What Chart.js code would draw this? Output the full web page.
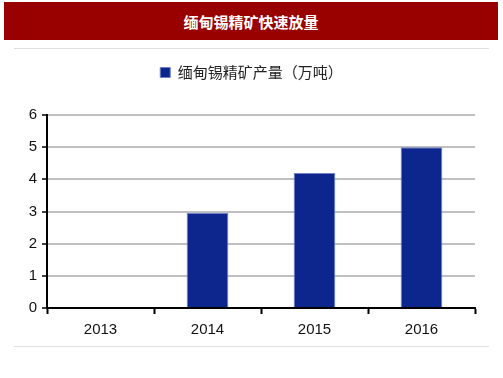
<!DOCTYPE html>
<html>
<head>
<meta charset="utf-8">
<script src="https://cdn.jsdelivr.net/npm/chart.js@4"></script>
<style>
  body { margin: 0; background: #fff; width: 503px; height: 378px; overflow: hidden; position: relative; }
  #header {
    position: absolute; left: 4px; top: 2px; width: 494px; height: 38px;
    background: #990000; color: #fff;
    display: flex; align-items: center; justify-content: center;
    font: bold 15px "Noto Sans CJK SC", sans-serif;
  }
  .rule { position: absolute; left: 14px; width: 475px; height: 1px; background: #e0e0e0; }
  #wrap { position: absolute; left: 0; top: 50px; width: 503px; height: 290px; }
</style>
</head>
<body>
<div id="header"><span>缅甸锡精矿快速放量</span></div>
<div class="rule" style="top:48px"></div>
<div class="rule" style="top:346px"></div>
<div id="wrap"><canvas id="chart"></canvas></div>
<script>
// datos
var years = ['2013', '2014', '2015', '2016'];
var output = [0, 2.95, 4.2, 5.0];
var seriesName = '缅甸锡精矿产量（万吨）';
var yTicks = [0, 1, 2, 3, 4, 5, 6];

var axisFont = { family: '"Liberation Sans", sans-serif', size: 15 };

// alto fijo para la leyenda
var legendHeight = {
    id: 'legendHeight',
    beforeInit: function(chart) {
        var origFit = chart.legend.fit;
        chart.legend.fit = function() {
            origFit.bind(chart.legend)();
            this.height = 65;
        };
    }
};

var ctx = document.getElementById('chart').getContext('2d');
var myChart = new Chart(ctx, {
    type: 'bar',
    data: {
        labels: years,
        datasets: [{
            label: seriesName,
            data: output,
            backgroundColor: '#0d268e',
            borderColor: '#6f80c8',
            borderWidth: 1,
            barPercentage: 0.39,
            categoryPercentage: 1
        }]
    },
    options: {
        responsive: true,
        maintainAspectRatio: false,
        animation: false,
        layout: { padding: { left: 28, right: 28, top: 0, bottom: 0 } },
        plugins: {
            legend: {
                position: 'top',
                labels: {
                    boxWidth: 10,
                    boxHeight: 10,
                    color: '#222',
                    padding: 15,
                    font: { family: '"Noto Sans CJK SC", sans-serif', size: 15 }
                }
            },
            tooltip: { enabled: false }
        },
        scales: {
            x: {
                afterFit: function(scale) { scale.height = 32; },
                grid: {
                    offset: true,
                    drawOnChartArea: false,
                    drawTicks: true,
                    tickLength: 6,
                    tickColor: '#000',
                    tickWidth: 2
                },
                border: { color: '#000', width: 2 },
                ticks: { color: '#111', font: axisFont, padding: 7 }
            },
            y: {
                min: 0,
                max: 6,
                afterFit: function(scale) { scale.width = 19; },
                afterBuildTicks: function(scale) {
                    scale.ticks = yTicks.map(function(v) { return { value: v }; });
                },
                grid: {
                    color: '#c0c0c0',
                    lineWidth: 2,
                    drawTicks: true,
                    tickLength: 5,
                    tickColor: '#000',
                    tickWidth: 1.5
                },
                border: { color: '#000', width: 2 },
                ticks: { color: '#111', font: axisFont, padding: 5 }
            }
        }
    },
    plugins: [legendHeight]
});
</script>
</body>
</html>
